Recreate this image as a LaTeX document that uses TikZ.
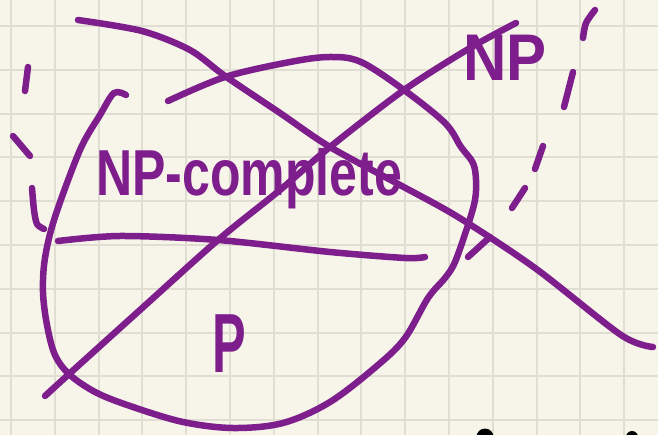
\documentclass[tikz,border=0pt]{standalone}
\usepackage{fontspec}
\setmainfont{Liberation Sans}
\begin{document}
\begin{tikzpicture}[x=1pt,y=-1pt,
  pen/.style={draw=inkpurple,line width=6.5pt,line cap=round,line join=round},
  gridline/.style={draw=gridgray,line width=2pt},
  ink/.style={text=inkpurple,inner sep=0pt}]
\definecolor{inkpurple}{RGB}{125,30,140}
\definecolor{paper}{RGB}{247,245,234}
\definecolor{gridgray}{RGB}{224,222,210}
\useasboundingbox (0,0) rectangle (658,435);
\clip (0,0) rectangle (658,435);
\fill[paper] (0,0) rectangle (658,435);
% grid
\foreach \i in {0,...,14} \draw[gridline] ({11+43.8*\i},0) -- ({11+43.8*\i},435);
\foreach \j in {0,...,9} \draw[gridline] (0,{26+43.8*\j}) -- (658,{26+43.8*\j});
% black marks at bottom
\fill[black] (485,437) circle (8.5);
\fill[black] (632,437) circle (6);
% oval (NP region)
\draw[pen] plot[smooth,tension=0.55] coordinates {(126,95) (114,93) (100,115) (80,150) (55,217) (45,258) (43,292) (47,325) (55,355) (70,375) (97,393) (133,407) (183,422) (233,428) (283,423) (330,402) (378,365) (405,338) (428,298) (445,278) (455,262) (468,225) (475,200) (476,180) (473,163) (461,147) (445,123) (404,90) (361,62) (330,57) (290,62) (225,77) (168,101)};
% horizontal divider
\draw[pen] plot[smooth,tension=0.5] coordinates {(58,241) (120,236) (218,240) (330,252) (405,258) (425,257)};
% crossing lines
\draw[pen] plot[smooth,tension=0.5] coordinates {(78,20) (142,31) (190,50) (225,76) (280,113) (330,147) (400,185) (458,217) (535,268) (621,335) (653,347)};
\draw[pen] plot[smooth,tension=0.5] coordinates {(45,396) (68,375) (140,310) (218,240) (280,190) (330,147) (404,90) (470,48) (516,23)};
\draw[pen] (468,257) -- (490,237);
% right dashed arc
\draw[pen] plot[smooth] coordinates {(595,10) (586,23) (583,38)};
\draw[pen] (573,72) -- (564,107);
\draw[pen] (543,146) -- (535,169);
\draw[pen] (525,188) -- (512,208);
% left dashed arc
\draw[pen] (28,67) -- (25,91);
\draw[pen] (13,136) -- (30,156);
\draw[pen] plot[smooth] coordinates {(32,188) (34,210) (37,224) (44,229)};
% labels
\node[ink,anchor=base west,font=\bfseries\fontsize{50}{56}\selectfont] (npc) at (96,196) {\scalebox{1}[1.3]{NP-complete}};
\node[ink,anchor=base,font=\bfseries\fontsize{84}{90}\selectfont] (p) at (229,372) {\scalebox{0.6}[1]{P}};
\node[ink,anchor=base,font=\bfseries\fontsize{60}{66}\selectfont] (np) at (505,81) {\scalebox{1}[1.1]{NP}};
\end{tikzpicture}
\end{document}
